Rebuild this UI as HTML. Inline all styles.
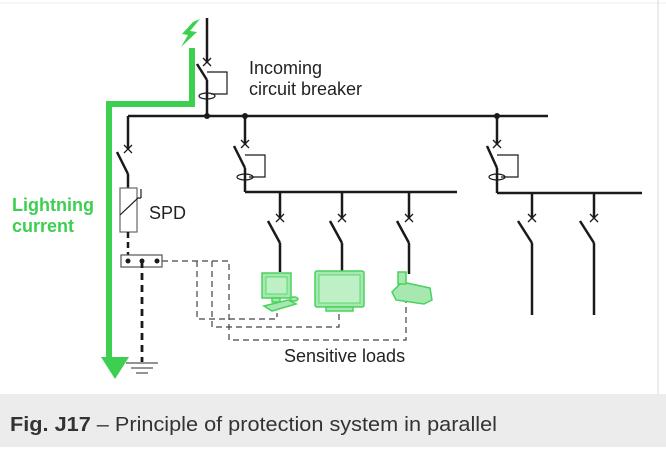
<!DOCTYPE html>
<html><head><style>
body{margin:0;width:666px;height:447px;background:#fff;overflow:hidden;font-family:"Liberation Sans",sans-serif}
</style></head><body>
<svg width="666" height="447" viewBox="0 0 666 447" xmlns="http://www.w3.org/2000/svg" font-family="Liberation Sans, sans-serif">
<rect x="0" y="0" width="666" height="447" fill="#fff"/>
<line x1="0" y1="3" x2="666" y2="3" stroke="#eee" stroke-width="1"/>
<line x1="658" y1="0" x2="658" y2="394" stroke="#e6e6e6" stroke-width="1.5"/>
<rect x="0" y="394" width="666" height="53" fill="#ececec"/>
<text x="10" y="431" font-size="20" fill="#333" textLength="487" lengthAdjust="spacingAndGlyphs"><tspan font-weight="bold">Fig. J17</tspan> – Principle of protection system in parallel</text>

<g stroke="#1a1a1a" fill="none">
<line x1="207" y1="18" x2="207" y2="63" stroke-width="2.5"/>
<path d="M203 58l8 8M211 58l-8 8" stroke-width="1.3"/>
<line x1="197" y1="64" x2="207" y2="80" stroke-width="2.5"/>
<line x1="207" y1="80" x2="207" y2="116" stroke-width="2.5"/>
<path d="M207 72H227V94H211" stroke-width="1.2"/>
<ellipse cx="207" cy="96" rx="8" ry="3" stroke-width="1.2"/>
<line x1="128" y1="116" x2="548" y2="116" stroke-width="2.5"/>
<line x1="128" y1="116" x2="128" y2="150" stroke-width="2.5"/>
<path d="M124 145l8 8M132 145l-8 8" stroke-width="1.3"/>
<line x1="117" y1="152" x2="128" y2="174" stroke-width="2.5"/>
<line x1="128" y1="174" x2="128" y2="188" stroke-width="2.5"/>
<rect x="120" y="188" width="17" height="44" stroke="#666" stroke-width="1.2" fill="#fff"/>
<path d="M120 215L138 198L141 198M141 198V189" stroke-width="1.2"/>
<line x1="128" y1="232" x2="128" y2="255" stroke-width="2.5" stroke-dasharray="6 4"/>
<rect x="121" y="255" width="41" height="12" stroke="#555" stroke-width="1.2"/>
<line x1="142" y1="261" x2="142" y2="362" stroke-width="2.8" stroke-dasharray="7 5"/>
<path d="M126 363H158M131 368H153M136 373H148" stroke="#555" stroke-width="1.2"/>
<line x1="245" y1="116" x2="245" y2="145" stroke-width="2.5"/>
<path d="M241 140l8 8M249 140l-8 8" stroke-width="1.3"/>
<line x1="234" y1="146" x2="245" y2="168" stroke-width="2.5"/>
<line x1="245" y1="168" x2="245" y2="192" stroke-width="2.5"/>
<path d="M245 155H265V177H249" stroke-width="1.2"/>
<ellipse cx="245" cy="177" rx="8" ry="3" stroke-width="1.2"/>
<line x1="245" y1="192" x2="457" y2="192" stroke-width="2.5"/>
<g stroke-width="2.5">
<line x1="280" y1="192" x2="280" y2="218"/><line x1="268" y1="221" x2="280" y2="243"/><line x1="280" y1="243" x2="280" y2="272"/>
<line x1="342" y1="192" x2="342" y2="218"/><line x1="330" y1="221" x2="342" y2="243"/><line x1="342" y1="243" x2="342" y2="272"/>
<line x1="409" y1="192" x2="409" y2="218"/><line x1="397" y1="221" x2="409" y2="243"/><line x1="409" y1="243" x2="409" y2="274"/>
</g>
<path d="M276 214l8 8M284 214l-8 8M338 214l8 8M346 214l-8 8M405 214l8 8M413 214l-8 8" stroke-width="1.3"/>
<line x1="497" y1="116" x2="497" y2="145" stroke-width="2.5"/>
<path d="M493 140l8 8M501 140l-8 8" stroke-width="1.3"/>
<line x1="487" y1="146" x2="497" y2="168" stroke-width="2.5"/>
<line x1="497" y1="168" x2="497" y2="193" stroke-width="2.5"/>
<path d="M497 155H518V177H501" stroke-width="1.2"/>
<ellipse cx="497" cy="177" rx="8" ry="3" stroke-width="1.2"/>
<line x1="497" y1="193" x2="642" y2="193" stroke-width="2.5"/>
<g stroke-width="2.5">
<line x1="532" y1="193" x2="532" y2="218"/><line x1="518" y1="221" x2="532" y2="243"/><line x1="532" y1="243" x2="532" y2="315"/>
<line x1="594" y1="193" x2="594" y2="218"/><line x1="580" y1="221" x2="594" y2="243"/><line x1="594" y1="243" x2="594" y2="315"/>
</g>
<path d="M528 214l8 8M536 214l-8 8M590 214l8 8M598 214l-8 8" stroke-width="1.3"/>
<g stroke="#444" stroke-width="1.2" stroke-dasharray="6 4">
<path d="M162 261H229V340H406V302"/>
<path d="M212 261V327H339V312"/>
<path d="M197 261V319H277V313"/>
</g>
</g>
<g fill="#1a1a1a">
<circle cx="207" cy="116" r="3"/><circle cx="245" cy="116" r="3"/><circle cx="497" cy="116" r="3"/>
<circle cx="128" cy="261" r="2.5"/><circle cx="142" cy="261" r="2.5"/><circle cx="157" cy="261" r="2.5"/>
</g>
<g fill="#a6e8b0" stroke="#48d25c" stroke-width="1.5">
<rect x="262" y="273" width="29" height="25"/>
<rect x="266" y="277" width="21" height="17" fill="#bdf0c4" stroke-width="0.8"/>
<rect x="272" y="298" width="8" height="4"/>
<path d="M264 306L288 300L296 304L272 311Z"/>
<ellipse cx="294" cy="299" rx="4" ry="2"/>
<rect x="315" y="271" width="49" height="36" rx="2"/>
<rect x="319" y="275" width="41" height="28" fill="#bdf0c4" stroke-width="0.8"/>
<rect x="326" y="307" width="27" height="4"/>
<path d="M392 292L402 282L430 288L432 300L424 304L396 300Z"/>
<rect x="398" y="272" width="8" height="12"/>
</g>
<path d="M192 48V104H109V360" stroke="#3dcf50" stroke-width="6" fill="none"/>
<path d="M101 357L129 357L115 379Z" fill="#3dcf50"/>
<path d="M200 19L190 31L197 32L181 47L188 35L182 34L193 22Z" fill="#3dcf50"/>
<text x="249" y="74" font-size="18" fill="#222">Incoming</text>
<text x="249" y="95" font-size="18" fill="#222">circuit breaker</text>
<text x="12" y="211" font-size="18" font-weight="bold" fill="#3dcf50">Lightning</text>
<text x="12" y="232" font-size="18" font-weight="bold" fill="#3dcf50">current</text>
<text x="149" y="219" font-size="18" fill="#222">SPD</text>
<text x="284" y="362" font-size="18" fill="#222">Sensitive loads</text>
</svg>
</body></html>
